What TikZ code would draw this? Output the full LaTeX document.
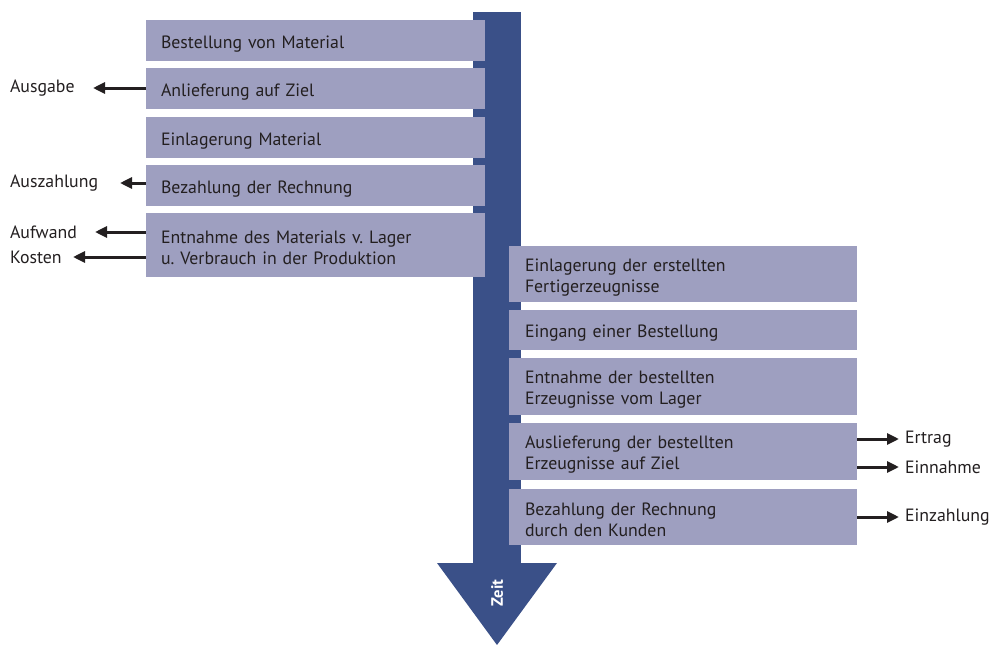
\documentclass[tikz,border=0pt]{standalone}
\usepackage{fontspec}
\setmainfont{PT Sans}
\usetikzlibrary{arrows.meta}
\definecolor{boxc}{HTML}{9E9FC0}
\definecolor{shaftc}{HTML}{3A5088}
\definecolor{txtc}{HTML}{231F20}
\frenchspacing
\begin{document}
\begin{tikzpicture}[x=1pt,y=-1pt,
  every node/.style={inner sep=0pt, outer sep=0pt, text=txtc, font=\fontsize{17.8}{21}\selectfont},
  boxtext/.style={fill=boxc, align=left, anchor=center, execute at begin node={\rule{0pt}{19pt}}},
  lbox/.style={boxtext, minimum width=339pt, text width=309pt},
  rbox/.style={boxtext, minimum width=348pt, text width=316pt},
  lab/.style={anchor=west},
  arr/.style={line width=3pt, draw=txtc, -{Triangle[length=12pt,width=11pt]}}
]
\useasboundingbox (0,0) rectangle (1005,645);
% time arrow
\fill[shaftc] (473,12) rectangle (521,564);
\fill[shaftc] (437,563) -- (557,563) -- (497,645) -- cycle;
\node[rotate=90, text=white, font=\fontsize{16.5}{18}\selectfont\bfseries] (zeit) at (497,593) {Zeit};
% left boxes
\node[lbox, minimum height=41pt] (l1) at (315.5,40.5) {Bestellung von Material};
\node[lbox, minimum height=41pt] (l2) at (315.5,88.5) {Anlieferung auf Ziel};
\node[lbox, minimum height=41pt] (l3) at (315.5,137.5) {Einlagerung Material};
\node[lbox, minimum height=41pt] (l4) at (315.5,185.5) {Bezahlung der Rechnung};
\node[lbox, minimum height=64pt] (l5) at (315.5,245) {Entnahme des Materials v. Lager\\u. Verbrauch in der Produktion};
% right boxes
\node[rbox, minimum height=56pt] (r1) at (683,274) {Einlagerung der erstellten\\Fertigerzeugnisse};
\node[rbox, minimum height=40pt] (r2) at (683,330) {Eingang einer Bestellung};
\node[rbox, minimum height=57pt] (r3) at (683,386.5) {Entnahme der bestellten\\Erzeugnisse vom Lager};
\node[rbox, minimum height=57pt] (r4) at (683,451.5) {Auslieferung der bestellten\\Erzeugnisse auf Ziel};
\node[rbox, minimum height=56pt] (r5) at (683,517) {Bezahlung der Rechnung\\durch den Kunden};
% left labels
\node[lab] (ausgabe) at (10,88) {Ausgabe};
\node[lab] (auszahlung) at (10,183) {Auszahlung};
\node[lab] (aufwand) at (10,232) {Aufwand};
\node[lab] (kosten) at (10,257) {Kosten};
% right labels
\node[lab] (ertrag) at (905,439) {Ertrag};
\node[lab] (einnahme) at (905,467) {Einnahme};
\node[lab] (einzahlung) at (905,517) {Einzahlung};
% connectors
\coordinate (t1) at (93,88);
\coordinate (t2) at (120,183);
\coordinate (t3) at (95,232);
\coordinate (t4) at (73,257);
\draw[arr] (l2.west |- t1) -- (t1);
\draw[arr] (l4.west |- t2) -- (t2);
\draw[arr] (l5.west |- t3) -- (t3);
\draw[arr] (l5.west |- t4) -- (t4);
\draw[arr] (r4.east |- ertrag) -- ([xshift=-6pt]ertrag.west);
\draw[arr] (r4.east |- einnahme) -- ([xshift=-6pt]einnahme.west);
\draw[arr] (r5.east |- einzahlung) -- ([xshift=-6pt]einzahlung.west);
\end{tikzpicture}
\end{document}
